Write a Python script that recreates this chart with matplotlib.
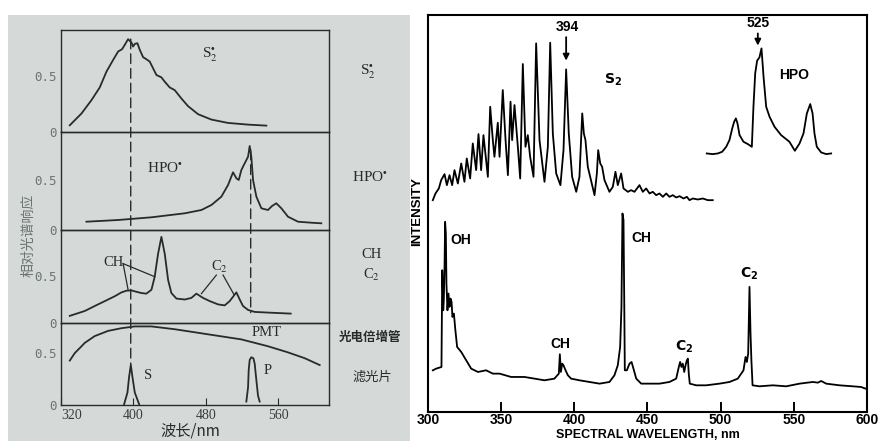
import matplotlib
matplotlib.use('Agg')
import matplotlib.pyplot as plt
from matplotlib.patches import Rectangle, ConnectionPatch

# ---- left: textbook figure, relative spectral response ----
s2star_nm = [329.7, 342.6, 353.6, 362.8, 370.2, 377.6, 383.1, 387.5, 390.4, 394.1, 397.8, 399.6,
             401.5, 404.4, 407.0, 410.7, 414.3, 418.0, 421.7, 425.4, 430.9, 434.6, 440.1, 445.6,
             453.0, 460.3, 471.4, 486.1, 504.5, 526.6, 546.8]
s2star_val = [0.06, 0.165, 0.284, 0.398, 0.539, 0.644, 0.719, 0.740, 0.778, 0.829, 0.799, 0.763,
              0.787, 0.793, 0.734, 0.668, 0.650, 0.629, 0.569, 0.509, 0.488, 0.449, 0.398, 0.374,
              0.299, 0.231, 0.159, 0.111, 0.081, 0.066, 0.057]

hpo_nm = [348.1, 383.1, 419.9, 456.7, 475.1, 486.1, 497.1, 504.5, 510.0, 513.7, 516.3, 519.2, 522.9,
          526.6, 528.4, 530.2, 532.1, 535.8, 541.3, 548.6, 553.1, 557.8, 563.4, 570.7, 581.8, 596.5, 607.5]
hpo_val = [0.083, 0.10, 0.127, 0.167, 0.2, 0.25, 0.333, 0.45, 0.577, 0.517, 0.5, 0.6, 0.667,
           0.733, 0.84, 0.733, 0.5, 0.333, 0.217, 0.2, 0.24, 0.267, 0.217, 0.133, 0.083, 0.073, 0.067]

ch_nm = [329.7, 346.3, 357.3, 368.4, 379.4, 386.8, 392.3, 397.8, 401.5, 408.8, 414.3, 419.9, 423.5,
         427.2, 430.9, 434.6, 438.3, 441.9, 447.5, 456.7, 464.0, 469.5, 476.9, 484.3, 493.5, 500.8,
         506.3, 513.7, 517.4, 521.0, 526.6, 533.9, 548.6, 573.7]
ch_val = [0.076, 0.128, 0.181, 0.233, 0.285, 0.326, 0.344, 0.347, 0.337, 0.319, 0.3125, 0.354, 0.493,
          0.736, 0.917, 0.736, 0.458, 0.319, 0.26, 0.25, 0.267, 0.3125, 0.267, 0.233, 0.198, 0.1875,
          0.233, 0.326, 0.25, 0.181, 0.139, 0.118, 0.111, 0.10]

pmt_nm = [329.7, 335.2, 340.8, 346.3, 357.3, 372.0, 386.8, 401.5, 419.9, 445.6, 482.4, 519.2,
          548.6, 570.7, 589.1, 605.7]
pmt_val = [0.428, 0.5, 0.549, 0.599, 0.664, 0.714, 0.740, 0.757, 0.757, 0.730, 0.681, 0.632,
           0.566, 0.507, 0.451, 0.385]

filt_s_nm = [389.7, 393.4, 395.2, 397.1, 398.9, 401.5, 406.3]
filt_s_val = [0.007, 0.12, 0.27, 0.385, 0.27, 0.12, 0.007]
filt_p_nm = [524.7, 526.6, 527.3, 528.4, 530.2, 532.5, 533.9, 535.8, 537.6, 539.4]
filt_p_val = [0.033, 0.17, 0.335, 0.434, 0.46, 0.45, 0.40, 0.237, 0.09, 0.033]

left_ticks = [320, 400, 480, 560]

# ---- right: flame emission spectra (arbitrary intensity) ----
s2_wl = [303.3, 305.1, 307.4, 309.0, 311.3, 312.9, 314.7, 316.5, 318.1, 320.4, 322.7, 324.9, 326.5,
         328.8, 330.6, 332.9, 334.5, 336.3, 337.9, 340.9, 342.5, 344.3, 345.4, 347.7, 348.9, 351.1,
         353.0, 354.6, 356.4, 357.5, 359.1, 361.4, 363.0, 364.8, 366.6, 368.2, 369.8, 372.1, 373.9,
         376.2, 379.6, 381.9, 383.5, 385.3, 387.6, 390.5, 392.6, 394.4, 396.2, 398.5, 401.3, 403.5,
         405.4, 406.5, 407.6, 409.2, 413.8, 415.4, 416.3, 417.7, 419.0, 420.6, 424.0, 426.3, 428.1,
         429.7, 432.0, 433.6, 436.6, 438.8, 441.1, 444.5, 446.8, 449.1, 451.4, 453.6, 455.9, 458.2,
         460.5, 462.8, 465.0, 467.3, 469.6, 471.9, 474.6, 476.9, 478.7, 481.0, 484.4, 487.8, 491.2, 494.6]
s2_int = [63.5, 65.5, 67.0, 69.5, 71.3, 68.0, 71.0, 68.0, 72.5, 68.5, 74.5, 69.0, 76.0,
          70.0, 80.5, 72.5, 83.3, 72.5, 83.0, 70.5, 91.5, 81.5, 76.5, 86.7, 76.5, 96.5,
          81.5, 71.0, 93.0, 81.5, 92.0, 79.5, 70.0, 104.3, 79.5, 83.0, 76.5, 70.5, 110.5,
          81.5, 69.0, 79.5, 110.7, 83.5, 71.5, 68.0, 78.5, 102.7, 83.5, 70.5, 66.0, 70.5,
          89.5, 83.5, 81.5, 73.5, 65.0, 71.5, 78.5, 74.5, 73.5, 69.5, 66.0, 67.5, 72.0,
          68.0, 71.5, 67.0, 66.0, 66.5, 66.0, 68.0, 66.0, 67.0, 65.5, 66.0, 65.0, 65.5,
          64.5, 65.5, 64.5, 65.0, 64.3, 64.7, 64.0, 64.5, 63.5, 64.0, 63.7, 64.0, 63.5, 63.5]

hpo_wl = [490.5, 494.6, 498.1, 501.0, 503.8, 506.0, 507.9, 509.2, 510.4, 511.5, 512.9, 515.6, 518.6,
          521.3, 522.4, 523.6, 524.9, 526.5, 527.9, 529.3, 531.1, 533.4, 536.8, 541.3, 547.0, 550.7,
          553.9, 556.6, 558.9, 561.2, 562.8, 564.1, 565.7, 568.7, 572.1, 575.5]
hpo_int = [77.5, 77.3, 77.5, 78.0, 79.5, 81.5, 85.0, 87.0, 88.0, 86.5, 83.0, 81.0, 80.3,
           79.5, 91.5, 101.5, 105.3, 106.3, 109.0, 100.5, 91.5, 88.5, 85.5, 83.0, 81.0, 78.3,
           80.5, 83.5, 89.5, 92.3, 89.5, 83.5, 79.5, 77.8, 77.3, 77.5]

flame_wl = [303.3, 305.6, 309.2, 309.5, 309.7, 310.1, 310.4, 310.8, 311.3, 311.7, 312.2, 312.6, 313.3,
            314.0, 314.7, 315.4, 316.1, 316.7, 317.7, 318.6, 319.9, 322.7, 326.1, 329.5, 334.1, 339.7,
            344.3, 348.9, 356.8, 365.9, 372.8, 379.6, 386.4, 389.4, 390.1, 390.8, 391.7, 392.6, 394.0,
            395.6, 397.8, 403.5, 410.4, 417.2, 424.0, 427.4, 429.7, 431.3, 432.2, 432.9, 433.6, 434.1,
            434.5, 435.9, 437.7, 439.1, 440.4, 442.3, 445.7, 451.4, 458.2, 465.0, 469.6, 471.4, 472.3,
            473.2, 474.1, 475.1, 476.0, 476.9, 477.6, 478.2, 478.9, 483.3, 490.1, 499.2, 506.0, 511.7,
            515.6, 517.0, 517.9, 518.8, 519.7, 520.4, 521.0, 521.8, 526.5, 535.6, 544.8, 553.9, 563.0,
            566.4, 568.7, 572.1, 581.2, 590.3, 596.0, 598.9, 601.7]
flame_int = [12.5, 13.0, 13.5, 29.5, 42.5, 37.5, 30.5, 33.5, 43.5, 57.0, 53.5, 38.5, 30.5,
             35.5, 31.5, 34.0, 33.0, 28.5, 29.5, 25.0, 19.5, 18.0, 15.5, 13.0, 12.0, 12.5,
             11.5, 11.5, 10.5, 10.5, 10.0, 9.5, 10.0, 11.5, 17.3, 12.0, 14.5, 14.0, 12.5,
             11.0, 10.0, 9.5, 9.0, 8.5, 9.0, 11.0, 14.0, 19.5, 31.5, 59.5, 57.5, 33.5,
             12.5, 12.5, 14.5, 15.0, 13.0, 10.0, 8.5, 8.5, 8.5, 9.0, 10.0, 13.5, 15.0,
             13.5, 14.5, 12.0, 14.0, 15.5, 16.0, 11.5, 8.5, 8.0, 8.0, 8.5, 9.0, 10.0,
             12.5, 16.5, 15.0, 17.5, 37.5, 23.5, 15.5, 8.0, 7.7, 8.0, 7.7, 8.5, 9.0,
             8.8, 9.3, 8.5, 8.0, 7.7, 7.5, 7.0, 7.5]

right_ticks = [300, 350, 400, 450, 500, 550, 600]

W, H = 879, 441
ink = '#2a2a2a'
grey = '#6d7272'


def box(x0, y0, x1, y1):
    # pixel box with top-left origin -> figure fraction rect
    return [x0 / W, 1 - y1 / H, (x1 - x0) / W, (y1 - y0) / H]


def fxy(x, y):
    return x / W, 1 - y / H


plt.rcParams['font.family'] = ['Liberation Sans', 'DejaVu Sans']

fig = plt.figure(figsize=(W / 100, H / 100), dpi=100)
fig.add_artist(Rectangle((8 / W, 0), 402 / W, 1 - 15 / H, transform=fig.transFigure,
                         facecolor='#d5dad9', edgecolor='none', zorder=-10))

edges = [30, 132, 230, 323, 405]
tops = [0.911, 0.98, 0.99, 0.79]
axs = []
for i in range(4):
    ax = fig.add_axes(box(61, edges[i], 329, edges[i + 1]))
    ax.set_facecolor('none')
    ax.set_xlim(320, 616)
    ax.set_ylim(0, tops[i])
    ax.set_yticks([0, 0.5], ['0', '0.5'], fontfamily='DejaVu Sans Mono', fontsize=9, color=grey)
    ax.tick_params(axis='y', length=0, pad=3)
    for s in ax.spines.values():
        s.set_color(ink)
        s.set_linewidth(1.0)
    if i < 3:
        ax.set_xticks([])
    axs.append(ax)

lw = 1.3
axs[0].plot(s2star_nm, s2star_val, color=ink, lw=lw)
axs[1].plot(hpo_nm, hpo_val, color=ink, lw=lw)
axs[2].plot(ch_nm, ch_val, color=ink, lw=lw)
axs[3].plot(pmt_nm, pmt_val, color=ink, lw=lw)
axs[3].plot(filt_s_nm, filt_s_val, color=ink, lw=lw)
axs[3].plot(filt_p_nm, filt_p_val, color=ink, lw=lw)

axs[3].set_xticks(left_ticks, [str(t) for t in left_ticks], fontfamily='Liberation Serif',
                  fontsize=10, color='#3c3c3c')
axs[3].tick_params(axis='x', direction='in', length=5, color=ink, pad=3)
axs[3].get_xticklabels()[0].set_horizontalalignment('left')

serif = dict(fontfamily='Liberation Serif', math_fontfamily='stix', color=ink)
axs[0].text(484.3, 0.689, r'S$_2^{\bullet}$', fontsize=11, ha='center', va='center', **serif)
axs[1].text(434.6, 0.617, r'HPO$^{\bullet}$', fontsize=11, ha='center', va='center', **serif)
axs[2].text(377.6, 0.64, 'CH', fontsize=10.5, ha='center', va='center', **serif)
axs[2].plot([388.6, 394.1], [0.632, 0.354], color=ink, lw=0.9)
axs[2].plot([388.6, 423.5], [0.632, 0.493], color=ink, lw=0.9)
axs[2].text(495.3, 0.6, r'C$_2$', fontsize=10.5, ha='center', va='center', **serif)
axs[2].plot([491.6, 475.1], [0.51, 0.3125], color=ink, lw=0.9)
axs[2].plot([499.0, 511.1], [0.51, 0.302], color=ink, lw=0.9)
axs[3].text(546.8, 0.697, 'PMT', fontsize=10.5, ha='center', va='center', **serif)
axs[3].text(416.2, 0.286, 'S', fontsize=10.5, ha='center', va='center', **serif)
axs[3].text(548.6, 0.329, 'P', fontsize=10.5, ha='center', va='center', **serif)

# dashed guide lines through the S2 and HPO peaks
dash = (0, (7, 3.6))
fig.add_artist(ConnectionPatch(xyA=(397, 0.83), coordsA='data', axesA=axs[0],
                               xyB=(397, 0.385), coordsB='data', axesB=axs[3],
                               linestyle=dash, color=ink, lw=1.0))
fig.add_artist(ConnectionPatch(xyA=(529.5, 0.80), coordsA='data', axesA=axs[1],
                               xyB=(529.5, 0.11), coordsB='data', axesB=axs[2],
                               linestyle=dash, color=ink, lw=1.0))

fig.text(*fxy(368, 72), r'S$_2^{\bullet}$', fontsize=11, ha='center', va='center', **serif)
fig.text(*fxy(370, 177), r'HPO$^{\bullet}$', fontsize=11, ha='center', va='center', **serif)
fig.text(*fxy(371, 255), 'CH', fontsize=10.5, ha='center', va='center', **serif)
fig.text(*fxy(371, 275), r'C$_2$', fontsize=10.5, ha='center', va='center', **serif)
cjk = dict(fontfamily='Noto Sans CJK SC', color=ink, ha='center', va='center')
fig.text(*fxy(370, 337), '光电倍增管', fontsize=9, fontweight='bold', **cjk)
fig.text(*fxy(372, 377), '滤光片', fontsize=9.5, **cjk)
fig.text(*fxy(190, 431), '波长/nm', fontsize=11, **cjk)
fig.text(*fxy(28, 235), '相对光谱响应', fontsize=10, rotation=90, fontfamily='Noto Sans CJK SC',
         color=grey, ha='center', va='center')

# ---- right panel ----
axr = fig.add_axes(box(428, 15, 867, 412))
axr.plot(s2_wl, s2_int, color='k', lw=1.3)
axr.plot(hpo_wl, hpo_int, color='k', lw=1.3)
axr.plot(flame_wl, flame_int, color='k', lw=1.3)
axr.set_xlim(300, 600)
axr.set_ylim(0, 119)
axr.set_xticks(right_ticks, [str(t) for t in right_ticks], fontsize=10, fontweight='bold')
axr.tick_params(axis='x', direction='in', length=7, width=1.4, pad=1)
axr.set_yticks([])
for s in axr.spines.values():
    s.set_linewidth(1.5)

bold = dict(fontsize=10, fontweight='bold', ha='center', va='center')
axr.text(394.9, 115.5, '394', **bold)
axr.annotate('', xy=(394.4, 104.5), xytext=(394.4, 113.2),
             arrowprops=dict(arrowstyle='-|>', color='k', lw=1.3, mutation_scale=9))
axr.text(525.4, 116.5, '525', **bold)
axr.annotate('', xy=(525.4, 109.0), xytext=(525.4, 114.3),
             arrowprops=dict(arrowstyle='-|>', color='k', lw=1.3, mutation_scale=9))
axr.text(426.3, 99.5, r'$\mathbf{S_2}$', math_fontfamily='dejavusans', **bold)
axr.text(550.5, 101.0, 'HPO', **bold)
axr.text(322.7, 51.5, 'OH', **bold)
axr.text(445.7, 52.3, 'CH', **bold)
axr.text(519.7, 41.5, r'$\mathbf{C_2}$', math_fontfamily='dejavusans', **bold)
axr.text(390.3, 20.5, 'CH', **bold)
axr.text(475.3, 19.5, r'$\mathbf{C_2}$', math_fontfamily='dejavusans', **bold)

fig.text(*fxy(648, 435.5), 'SPECTRAL WAVELENGTH, nm', fontsize=9, fontweight='bold',
         ha='center', va='center')
fig.text(*fxy(417, 212), 'INTENSITY', fontsize=9.5, fontweight='bold', rotation=90,
         ha='center', va='center')

fig.savefig('out.png', dpi=100)
